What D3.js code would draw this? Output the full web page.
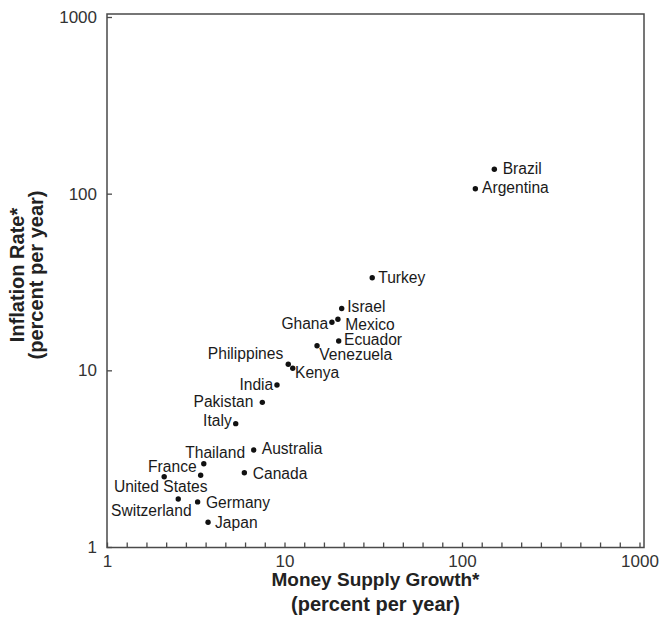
<!DOCTYPE html>
<html>
<head>
<meta charset="utf-8">
<script src="https://cdn.jsdelivr.net/npm/d3@7"></script>
<style>
  body { margin: 0; background: #ffffff; }
  svg { display: block; font-family: "Liberation Sans", Arial, Helvetica, sans-serif; }
</style>
</head>
<body>
<svg id="chart" width="665" height="626"></svg>
<script>
// Average money supply growth vs. average inflation, selected countries
const countries = ["Brazil", "Argentina", "Turkey", "Israel", "Ghana", "Mexico", "Ecuador",
  "Venezuela", "Philippines", "Kenya", "India", "Pakistan", "Italy", "Australia", "Thailand",
  "France", "United States", "Canada", "Switzerland", "Germany", "Japan"];
const moneyGrowth = [152.1, 118.9, 31.2, 21.0, 18.5, 20.0, 20.2,
  15.25, 10.5, 11.13, 9.07, 7.50, 5.31, 6.71, 3.51,
  3.37, 2.10, 5.94, 2.52, 3.24, 3.71];
const inflation = [137.4, 106.7, 33.4, 22.4, 18.7, 19.45, 14.66,
  13.79, 10.82, 10.27, 8.26, 6.59, 4.99, 3.54, 2.96,
  2.55, 2.50, 2.63, 1.87, 1.80, 1.38];

const tickValues = [1, 10, 100, 1000];
const tickLabels = ["1", "10", "100", "1000"];
const xTitleLines = ["Money Supply Growth*", "(percent per year)"];
const yTitleLines = ["Inflation Rate*", "(percent per year)"];

// label placement: [text-anchor, dx, dy] relative to the dot
const labelPlacement = {
  "Brazil": ["start", 8.4, 5], "Argentina": ["start", 6.7, 4.6], "Turkey": ["start", 6, 5.6],
  "Israel": ["start", 5.6, 4], "Ghana": ["end", -3.7, 6.7], "Mexico": ["start", 7.3, 11.2],
  "Ecuador": ["start", 5.3, 3.8], "Venezuela": ["start", 2.3, 14.6],
  "Philippines": ["end", -5, -5], "Kenya": ["start", 2.3, 9.4], "India": ["end", -3.7, 5],
  "Pakistan": ["end", -9, 4.4], "Italy": ["end", -4, 2], "Australia": ["start", 8, 4.3],
  "Thailand": ["end", 41.3, -6], "France": ["end", -4, -3],
  "United States": ["middle", -3.5, 15.6], "Canada": ["start", 8.4, 6.3],
  "Switzerland": ["end", 13.4, 17], "Germany": ["start", 8.3, 6], "Japan": ["start", 7, 5.4]
};

const points = countries.map((c, i) => ({ name: c, m: moneyGrowth[i], p: inflation[i] }));

const frame = { left: 107, right: 644, top: 14, bottom: 547.5 };
const x = d3.scaleLog().domain([1, 1000]).range([107, 639.5]);
const y = d3.scaleLog().domain([1, 1000]).range([547, 17]);

const svg = d3.select("#chart");
const axisColor = "#4a4a4a";

// minor ticks on the x axis: eight evenly spaced marks inside each decade
const minorTicks = [];
for (let d = 0; d < 3; d++) for (let k = 1; k <= 8; k++) minorTicks.push(Math.pow(10, d + k / 9));

const gxMinor = svg.append("g").attr("transform", `translate(0,${frame.bottom})`)
  .call(d3.axisBottom(x).tickValues(minorTicks).tickSize(-5).tickFormat(""));
const gx = svg.append("g").attr("transform", `translate(0,${frame.bottom})`)
  .call(d3.axisBottom(x).tickValues(tickValues).tickSize(-5).tickPadding(7)
    .tickFormat((d, i) => tickLabels[i]));
const gy = svg.append("g").attr("transform", `translate(${frame.left},0)`)
  .call(d3.axisLeft(y).tickValues(tickValues).tickSize(-5).tickPadding(10)
    .tickFormat((d, i) => tickLabels[i]));

[gxMinor, gx, gy].forEach(g => {
  g.select(".domain").remove();
  g.selectAll(".tick line").attr("stroke", axisColor).attr("stroke-width", 1.3);
  g.selectAll(".tick text").attr("fill", "#333").style("font-size", "17px")
    .style("font-family", "\"Liberation Sans\", Arial, sans-serif");
});

// plot frame
svg.append("rect")
  .attr("x", frame.left).attr("y", frame.top)
  .attr("width", frame.right - frame.left).attr("height", frame.bottom - frame.top)
  .attr("fill", "none").attr("stroke", axisColor).attr("stroke-width", 1.5);

// points
svg.append("g").selectAll("circle").data(points).join("circle")
  .attr("cx", d => x(d.m)).attr("cy", d => y(d.p)).attr("r", 2.7).attr("fill", "#111");

// country labels
svg.append("g").selectAll("text").data(points).join("text")
  .attr("x", d => x(d.m) + labelPlacement[d.name][1])
  .attr("y", d => y(d.p) + labelPlacement[d.name][2])
  .attr("text-anchor", d => labelPlacement[d.name][0])
  .attr("fill", "#1a1a1a").style("font-size", "15.6px")
  .text(d => d.name);

// axis titles
const titleSizes = ["19px", "20px"];
const cx = (frame.left + frame.right) / 2;
svg.append("g").selectAll("text").data(xTitleLines).join("text")
  .attr("x", cx).attr("y", (d, i) => 586 + i * 25)
  .attr("text-anchor", "middle").attr("font-weight", "bold")
  .attr("fill", "#222").style("font-size", (d, i) => titleSizes[i]).text(d => d);

const cy = 275;
svg.append("g").selectAll("text").data(yTitleLines).join("text")
  .attr("transform", (d, i) => `translate(${24 + i * 19},${cy}) rotate(-90)`)
  .attr("text-anchor", "middle").attr("font-weight", "bold")
  .attr("fill", "#222").style("font-size", "20px").text(d => d);
</script>
</body>
</html>
